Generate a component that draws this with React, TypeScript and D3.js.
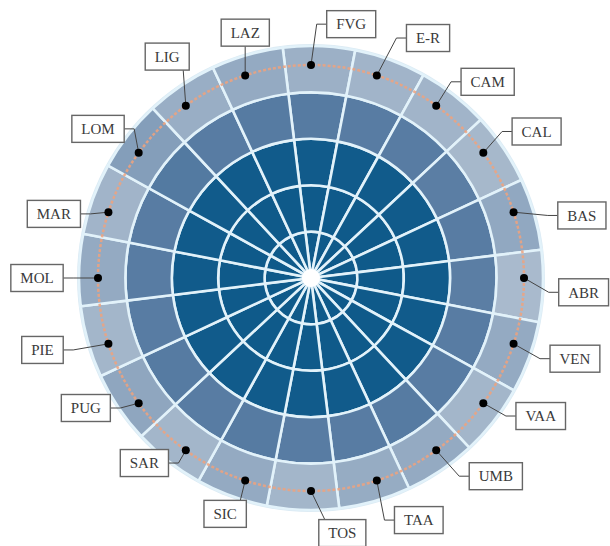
import { arc, scaleBand, scaleLinear, scalePoint } from 'd3';
import { useMemo } from 'react';

// regions clockwise from the top
const regions = [
  'FVG', 'E-R', 'CAM', 'CAL', 'BAS', 'ABR', 'VEN', 'VAA', 'UMB', 'TAA',
  'TOS', 'SIC', 'SAR', 'PUG', 'PIE', 'MOL', 'MAR', 'LOM', 'LIG', 'LAZ',
];
const rings = ['1', '2', '3', '4', '5'];

// cell scores, inner ring first
const ring1 = [90, 90, 90, 90, 90, 90, 90, 90, 90, 90, 90, 90, 90, 90, 90, 90, 90, 90, 90, 90];
const ring2 = [90, 90, 90, 90, 90, 90, 90, 90, 90, 90, 90, 90, 90, 90, 90, 90, 90, 90, 90, 90];
const ring3 = [89, 89, 89, 89, 89, 89, 89, 89, 89, 89, 89, 89, 89, 89, 89, 89, 89, 89, 89, 89];
const ring4 = [61, 60, 60, 59, 60, 59, 60, 60, 61, 60, 60, 61, 60, 61, 60, 60, 60, 62, 60, 61];
const ring5 = [34, 32, 32, 30, 38, 29, 37, 31, 37, 36, 31, 37, 31, 39, 31, 37, 32, 43, 35, 37];
const ringValues = [ring1, ring2, ring3, ring4, ring5];

// annotation layout: turn (deg) and distance (px) of each label box from the centre
const labelTurn = [9, 8, 6, 3, 5, 3, -1, -5, -7, -6, -7, 2, 6, 6, 3, 0, -4, -1, 3, 3];
const labelDist = [257, 267, 264, 269, 278, 273, 276, 268, 271, 265, 257, 251, 249, 260, 278, 274, 265, 260, 264, 254];

const width = 610;
const height = 546;
const cx = 311;
const cy = 278;
const outerRadius = 232;
const dotRadius = 213;
const boxH = 27;
const fontSize = 15;

const rad = (d: number) => (d * Math.PI) / 180;

export default function App() {
  const angle = scaleBand().domain(regions).range([rad(-7), rad(353)]);
  const point = scalePoint().domain(regions).range([0, rad(342)]);
  const radius = scaleBand().domain(rings).range([0, outerRadius]);
  const color = scaleLinear<string>()
    .domain([25, 60, 90])
    .range(['#b3c2d2', '#587ca3', '#0f5a8a']);
  const cell = arc<any>();

  const textWidth = useMemo(() => {
    const ctx = document.createElement('canvas').getContext('2d');
    if (!ctx) return (s: string) => s.length * 10;
    ctx.font = `${fontSize}px serif`;
    return (s: string) => ctx.measureText(s).width;
  }, []);

  const labels = regions.map((name, i) => {
    const a = point(name)!;
    const px = cx + dotRadius * Math.sin(a);
    const py = cy - dotRadius * Math.cos(a);
    const la = a + rad(labelTurn[i]);
    const bx = cx + labelDist[i] * Math.sin(la);
    const by = cy - labelDist[i] * Math.cos(la);
    const w = Math.max(40, textWidth(name) + 19);
    const x0 = bx - w / 2;
    const x1 = bx + w / 2;
    const y0 = by - boxH / 2;
    const y1 = by + boxH / 2;
    let pts: [number, number][];
    if (Math.abs(bx - px) > w / 2 + 10) {
      const sx = bx > px ? x0 : x1;
      const ex = bx > px ? sx - 10 : sx + 10;
      pts = [[px, py], [ex, by], [sx, by]];
    } else {
      const sy = by > py ? y0 : y1;
      const sx = Math.max(x0 + 6, Math.min(x1 - 6, px));
      pts = [[px, py], [sx, sy]];
    }
    return { name, px, py, bx, by, w, x0, y0, pts };
  });

  return (
    <svg
      width={width}
      height={height}
      style={{ position: 'absolute', left: 0, top: 0, background: '#fff' }}>
      <g transform={`translate(${cx},${cy})`}>
        <circle r={outerRadius + 2} fill='#dcebf4' />
        {rings.map((ring, j) =>
          regions.map((name, i) => (
            <path
              key={`${ring}-${name}`}
              d={cell({
                innerRadius: radius(ring)!,
                outerRadius: radius(ring)! + radius.bandwidth(),
                startAngle: angle(name)!,
                endAngle: angle(name)! + angle.bandwidth(),
              })!}
              fill={color(ringValues[j][i])}
              stroke='#e2f2fa'
              strokeWidth={2.6}
            />
          )),
        )}
        <circle r={9} fill='#fff' />
        <circle
          r={dotRadius}
          fill='none'
          stroke='#f0a27c'
          strokeWidth={2.5}
          strokeDasharray='3 2'
          opacity={0.85}
        />
      </g>
      <g fontFamily='serif' fontSize={fontSize}>
        {labels.map((l) => (
          <g key={l.name}>
            <polyline
              points={l.pts.map((p) => p.join(',')).join(' ')}
              fill='none'
              stroke='#444'
              strokeWidth={1}
            />
            <circle cx={l.px} cy={l.py} r={4} fill='#000' />
            <rect
              x={l.x0}
              y={l.y0}
              width={l.w}
              height={boxH}
              fill='#fff'
              stroke='#666'
              strokeWidth={1.4}
            />
            <text
              x={l.bx}
              y={l.by}
              dy='0.35em'
              textAnchor='middle'
              fill='#3a3a3a'>
              {l.name}
            </text>
          </g>
        ))}
      </g>
    </svg>
  );
}
